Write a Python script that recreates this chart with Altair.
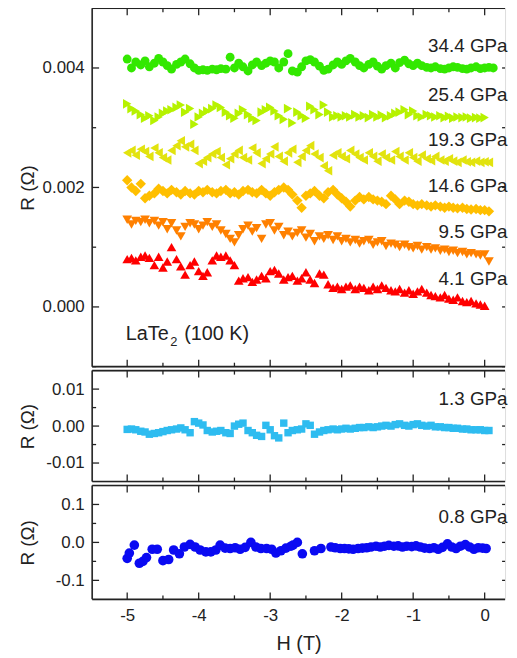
import altair as alt
import pandas as pd

FONT = "Liberation Sans"
INK = "#222222"

# ---- field grid (T) ----
H_GRID = [-5.00, -4.94, -4.88, -4.81, -4.75, -4.69, -4.62, -4.56, -4.50, -4.44,
          -4.38, -4.31, -4.25, -4.19, -4.12, -4.06, -4.00, -3.94, -3.88, -3.81,
          -3.75, -3.69, -3.62, -3.56, -3.50, -3.44, -3.38, -3.31, -3.25, -3.19,
          -3.12, -3.06, -3.00, -2.94, -2.88, -2.81, -2.75, -2.69, -2.62, -2.56,
          -2.50, -2.44, -2.38, -2.31, -2.25, -2.19, -2.12, -2.06, -2.00, -1.94,
          -1.88, -1.81, -1.75, -1.69, -1.62, -1.56, -1.50, -1.44, -1.38, -1.31,
          -1.25, -1.19, -1.12, -1.06, -1.00, -0.94, -0.88, -0.81, -0.75, -0.69,
          -0.62, -0.56, -0.50, -0.44, -0.38, -0.31, -0.25, -0.19, -0.12, -0.06,
          0.00, 0.06, 0.12]

# ---- top panel series (Ohm) ----
R_344 = [0.00415, 0.00400, 0.00410, 0.00405, 0.00412, 0.00402, 0.00408, 0.00416, 0.00410, 0.00404,
         0.00398, 0.00406, 0.00410, 0.00415, 0.00407, 0.00400, 0.00396, 0.00397, 0.00396, 0.00398,
         0.00397, 0.00399, 0.00398, 0.00418, 0.00400, 0.00408, 0.00402, 0.00395, 0.00405, 0.00410,
         0.00404, 0.00408, 0.00412, 0.00410, 0.00400, 0.00410, 0.00424, 0.00395, 0.00393, 0.00402,
         0.00412, 0.00414, 0.00410, 0.00403, 0.00396, 0.00398, 0.00405, 0.00410, 0.00406, 0.00412,
         0.00416, 0.00410, 0.00404, 0.00400, 0.00406, 0.00410, 0.00403, 0.00398, 0.00404, 0.00408,
         0.00400, 0.00409, 0.00413, 0.00407, 0.00404, 0.00408, 0.00404, 0.00401, 0.00400, 0.00402,
         0.00399, 0.00398, 0.00400, 0.00402, 0.00401, 0.00399, 0.00398, 0.00400, 0.00402, 0.00399,
         0.00400, 0.00401, 0.00400]
R_254 = [0.00340, 0.00332, 0.00328, 0.00322, 0.00316, 0.00320, 0.00312, 0.00318, 0.00324, 0.00328,
         0.00330, 0.00334, 0.00338, 0.00326, 0.00332, 0.00306, 0.00318, 0.00324, 0.00328, 0.00332,
         0.00338, 0.00334, 0.00326, 0.00320, 0.00316, 0.00324, 0.00330, 0.00322, 0.00316, 0.00312,
         0.00326, 0.00330, 0.00334, 0.00328, 0.00320, 0.00314, 0.00332, 0.00308, 0.00326, 0.00320,
         0.00316, 0.00336, 0.00330, 0.00322, 0.00338, 0.00326, 0.00318, 0.00320, 0.00318, 0.00320,
         0.00318, 0.00322, 0.00318, 0.00320, 0.00317, 0.00322, 0.00318, 0.00321, 0.00317, 0.00320,
         0.00324, 0.00326, 0.00330, 0.00322, 0.00328, 0.00320, 0.00318, 0.00322, 0.00320, 0.00318,
         0.00320, 0.00317, 0.00319, 0.00316, 0.00318, 0.00317, 0.00318, 0.00316, 0.00317, 0.00316,
         0.00317]
R_193 = [0.00258, 0.00262, 0.00254, 0.00264, 0.00260, 0.00252, 0.00266, 0.00258, 0.00250, 0.00246,
         0.00262, 0.00270, 0.00278, 0.00268, 0.00272, 0.00262, 0.00240, 0.00244, 0.00250, 0.00256,
         0.00260, 0.00250, 0.00238, 0.00248, 0.00256, 0.00262, 0.00250, 0.00246, 0.00266, 0.00258,
         0.00240, 0.00248, 0.00256, 0.00268, 0.00252, 0.00244, 0.00258, 0.00264, 0.00242, 0.00252,
         0.00262, 0.00270, 0.00256, 0.00250, 0.00236, 0.00228, 0.00254, 0.00258, 0.00252, 0.00248,
         0.00262, 0.00256, 0.00250, 0.00246, 0.00258, 0.00252, 0.00244, 0.00256, 0.00250, 0.00246,
         0.00260, 0.00252, 0.00246, 0.00258, 0.00250, 0.00244, 0.00254, 0.00248, 0.00245, 0.00252,
         0.00246, 0.00244, 0.00248, 0.00244, 0.00242, 0.00246, 0.00243, 0.00242, 0.00244, 0.00242,
         0.00243, 0.00242]
R_146 = [0.00212, 0.00200, 0.00194, 0.00206, 0.00182, 0.00186, 0.00190, 0.00198, 0.00194, 0.00190,
         0.00196, 0.00192, 0.00188, 0.00194, 0.00190, 0.00188, 0.00194, 0.00192, 0.00196, 0.00192,
         0.00190, 0.00194, 0.00196, 0.00190, 0.00192, 0.00188, 0.00194, 0.00196, 0.00192, 0.00190,
         0.00196, 0.00190, 0.00186, 0.00192, 0.00196, 0.00200, 0.00196, 0.00188, 0.00178, 0.00166,
         0.00186, 0.00190, 0.00194, 0.00186, 0.00182, 0.00192, 0.00196, 0.00188, 0.00182, 0.00176,
         0.00168, 0.00178, 0.00184, 0.00180, 0.00184, 0.00180, 0.00178, 0.00176, 0.00172, 0.00186,
         0.00180, 0.00172, 0.00178, 0.00176, 0.00172, 0.00170, 0.00172, 0.00170, 0.00168, 0.00170,
         0.00168, 0.00166, 0.00168, 0.00166, 0.00165, 0.00166, 0.00164, 0.00163, 0.00164, 0.00162,
         0.00162, 0.00160]
R_95 = [0.00146, 0.00138, 0.00144, 0.00142, 0.00146, 0.00140, 0.00144, 0.00136, 0.00142, 0.00130,
        0.00140, 0.00128, 0.00118, 0.00134, 0.00140, 0.00138, 0.00130, 0.00136, 0.00142, 0.00134,
        0.00138, 0.00128, 0.00122, 0.00114, 0.00108, 0.00120, 0.00130, 0.00136, 0.00126, 0.00132,
        0.00114, 0.00138, 0.00140, 0.00128, 0.00134, 0.00120, 0.00126, 0.00118, 0.00124, 0.00128,
        0.00116, 0.00122, 0.00110, 0.00118, 0.00114, 0.00120, 0.00112, 0.00118, 0.00110, 0.00114,
        0.00108, 0.00112, 0.00106, 0.00110, 0.00112, 0.00104, 0.00108, 0.00110, 0.00102, 0.00106,
        0.00104, 0.00100, 0.00104, 0.00100, 0.00098, 0.00102, 0.00096, 0.00100, 0.00096, 0.00098,
        0.00094, 0.00096, 0.00092, 0.00094, 0.00090, 0.00092, 0.00088, 0.00090, 0.00088, 0.00086,
        0.00088, 0.00076]
R_41 = [0.00080, 0.00082, 0.00078, 0.00084, 0.00086, 0.00082, 0.00070, 0.00084, 0.00066, 0.00076,
        0.00100, 0.00080, 0.00068, 0.00054, 0.00070, 0.00076, 0.00060, 0.00052, 0.00058, 0.00078,
        0.00086, 0.00084, 0.00086, 0.00078, 0.00070, 0.00044, 0.00048, 0.00050, 0.00042, 0.00046,
        0.00052, 0.00048, 0.00060, 0.00062, 0.00056, 0.00046, 0.00050, 0.00052, 0.00044, 0.00048,
        0.00058, 0.00046, 0.00040, 0.00056, 0.00054, 0.00038, 0.00032, 0.00034, 0.00030, 0.00034,
        0.00036, 0.00030, 0.00034, 0.00032, 0.00028, 0.00034, 0.00030, 0.00036, 0.00032, 0.00028,
        0.00026, 0.00030, 0.00024, 0.00028, 0.00022, 0.00026, 0.00030, 0.00024, 0.00020, 0.00018,
        0.00016, 0.00020, 0.00014, 0.00012, 0.00016, 0.00010, 0.00008, 0.00010, 0.00006, 0.00004,
        0.00002]

# ---- middle panel: 1.3 GPa ----
R_13 = [-0.0009, -0.0008, -0.0010, -0.0014, -0.0016, -0.0022, -0.0020, -0.0018, -0.0015, -0.0012,
        -0.0010, -0.0008, -0.0005, -0.0010, -0.0018, 0.0012, 0.0008, 0.0003, -0.0012, -0.0016,
        -0.0014, -0.0012, -0.0018, -0.0020, 0.0000, 0.0005, 0.0008, -0.0012, -0.0018, -0.0025,
        -0.0028, 0.0002, -0.0010, -0.0026, -0.0032, 0.0008, -0.0018, -0.0012, -0.0010, -0.0008,
        0.0006, 0.0002, -0.0022, -0.0016, -0.0012, -0.0010, -0.0008, -0.0010, -0.0008, -0.0006,
        -0.0008, -0.0006, -0.0004, -0.0004, -0.0002, -0.0004, -0.0002, 0.0000, 0.0002, 0.0000,
        0.0004, 0.0006, 0.0002, 0.0000, 0.0004, 0.0006, 0.0002, 0.0000, 0.0002, -0.0002,
        -0.0002, -0.0004, -0.0004, -0.0006, -0.0006, -0.0008, -0.0008, -0.0010, -0.0010, -0.0010,
        -0.0012, -0.0012]

# ---- bottom panel: 0.8 GPa ----
H_08 = [-5.00, -4.97, -4.90, -4.83, -4.78, -4.73, -4.65, -4.58, -4.50, -4.42,
        -4.35, -4.27, -4.20, -4.12, -4.05, -3.98, -3.90, -3.83, -3.76, -3.70,
        -3.63, -3.56, -3.49, -3.42, -3.35, -3.27, -3.20, -3.13, -3.05, -2.98,
        -2.92, -2.85, -2.78, -2.71, -2.68, -2.62, -2.55, -2.38, -2.29, -2.15,
        -2.09, -2.02, -1.96, -1.90, -1.84, -1.77, -1.71, -1.65, -1.59, -1.52,
        -1.46, -1.40, -1.34, -1.27, -1.21, -1.15, -1.09, -1.02, -0.96, -0.90,
        -0.84, -0.77, -0.71, -0.65, -0.59, -0.52, -0.46, -0.40, -0.34, -0.27,
        -0.21, -0.15, -0.09, -0.03, 0.02]
R_08 = [-0.042, -0.028, -0.007, -0.055, -0.050, -0.040, -0.018, -0.018, -0.048, -0.045,
        -0.020, -0.030, -0.012, -0.005, -0.012, -0.020, -0.025, -0.025, -0.020, -0.007,
        -0.015, -0.016, -0.014, -0.018, -0.013, 0.000, -0.012, -0.016, -0.016, -0.018,
        -0.028, -0.022, -0.015, -0.010, -0.007, 0.000, -0.030, -0.022, -0.016, -0.012,
        -0.014, -0.016, -0.016, -0.017, -0.018, -0.016, -0.015, -0.014, -0.012, -0.010,
        -0.012, -0.010, -0.008, -0.010, -0.009, -0.012, -0.010, -0.011, -0.009, -0.012,
        -0.015, -0.016, -0.014, -0.018, -0.013, -0.004, -0.012, -0.016, -0.010, -0.006,
        -0.012, -0.018, -0.014, -0.015, -0.016]

# ---- series styling ----
TOP_SERIES = [
    ("34.4 GPa", R_344, "#33e800", "circle", 80),
    ("25.4 GPa", R_254, "#b6f200", "triangle-right", 95),
    ("19.3 GPa", R_193, "#e2e30e", "triangle-left", 95),
    ("14.6 GPa", R_146, "#ffbf00", "diamond", 110),
    ("9.5 GPa", R_95, "#ff8000", "triangle-down", 95),
    ("4.1 GPa", R_41, "#ff0000", "triangle-up", 95),
]

# label anchors (H, R) for the pressure labels
TOP_LABEL_H = [0.32] * 6
TOP_LABEL_R = [0.00426, 0.003455, 0.002688, 0.001922, 0.001155, 0.000372]
MID_LABEL = ("1.3 GPa", 0.32, 0.0058)
BOT_LABEL = ("0.8 GPa", 0.32, 0.052)
SAMPLE_LABEL = (-5.02, -0.00055)

# ---- axes ----
XDOM = [-5.49, 0.285]
X_MAJOR = [-5, -4, -3, -2, -1, 0]
X_MINOR = [-4.5, -3.5, -2.5, -1.5, -0.5]
W = 417
H_TOP, H_MID, H_BOT = 362, 112, 115


def signed(fmt):
    return ("datum.value < 0 ? '-' + format(abs(datum.value), '%s') : format(datum.value, '%s')"
            % (fmt, fmt))


def panel(points, ydom, height, ymaj, ymin, yfmt, texts, show_x):
    xscale = alt.Scale(domain=XDOM, nice=False, zero=False)
    yscale = alt.Scale(domain=ydom, nice=False, zero=False)
    if show_x:
        xaxis = alt.Axis(values=X_MAJOR, title="H (T)", labelExpr=signed("d"), ticks=False,
                         domain=False, grid=False, labelPadding=8, titlePadding=11,
                         labelFontSize=17, titleFontSize=20, labelFont=FONT, titleFont=FONT,
                         labelColor=INK, titleColor=INK, titleFontWeight="normal")
    else:
        xaxis = None
    yaxis = alt.Axis(values=ymaj, title="R (\u03a9)", labelExpr=signed(yfmt), ticks=False,
                     domain=False, grid=False, labelPadding=8, minExtent=52, maxExtent=52,
                     titlePadding=3, labelFontSize=17, titleFontSize=19, labelFont=FONT,
                     titleFont=FONT, labelColor=INK, titleColor=INK, titleFontWeight="normal")
    xenc = alt.X("H:Q", scale=xscale, axis=xaxis)
    yenc = alt.Y("R:Q", scale=yscale, axis=yaxis)

    layers = []
    for name, df, color, shape, size in points:
        layers.append(alt.Chart(df).mark_point(filled=True, opacity=1, color=color,
                                               shape=shape, size=size, strokeWidth=0)
                      .encode(x=xenc, y=yenc))

    # frame: left, top, bottom (right edge lies beyond the cropped figure)
    frame = dict(color=INK, strokeWidth=1.6)
    layers.append(alt.Chart(pd.DataFrame({"k": [0]})).mark_rule(**frame).encode(
        x=alt.value(0), y=alt.value(0), y2=alt.value(height)))
    layers.append(alt.Chart(pd.DataFrame({"k": [0]})).mark_rule(**frame).encode(
        y=alt.value(0), x=alt.value(0), x2=alt.value(W)))
    layers.append(alt.Chart(pd.DataFrame({"k": [0]})).mark_rule(**frame).encode(
        y=alt.value(height), x=alt.value(0), x2=alt.value(W)))

    rule = dict(color=INK, strokeWidth=1.3)
    for vals, ln in ((X_MAJOR, 7), (X_MINOR, 4)):
        d = pd.DataFrame({"H": vals})
        layers.append(alt.Chart(d).mark_rule(**rule).encode(
            x=xenc, y=alt.value(height), y2=alt.value(height - ln)))
        layers.append(alt.Chart(d).mark_rule(**rule).encode(
            x=xenc, y=alt.value(0), y2=alt.value(ln)))
    for vals, ln in ((ymaj, 7), (ymin, 4)):
        d = pd.DataFrame({"R": vals})
        layers.append(alt.Chart(d).mark_rule(**rule).encode(
            y=yenc, x=alt.value(0), x2=alt.value(ln)))
        layers.append(alt.Chart(d).mark_rule(**rule).encode(
            y=yenc, x=alt.value(W), x2=alt.value(W - 3)))

    for df, props in texts:
        layers.append(alt.Chart(df).mark_text(font=FONT, color=INK, **props)
                      .encode(x=xenc, y=yenc, text="label:N"))

    return alt.layer(*layers).properties(width=W, height=height)


# top panel
top_points = []
for name, vals, color, shape, size in TOP_SERIES:
    df = pd.DataFrame({"H": H_GRID[:len(vals)], "R": vals})
    top_points.append((name, df, color, shape, size))
top_labels = pd.DataFrame({"H": TOP_LABEL_H, "R": TOP_LABEL_R,
                           "label": [s[0] for s in TOP_SERIES]})
sample_a = pd.DataFrame({"H": [SAMPLE_LABEL[0]], "R": [SAMPLE_LABEL[1]], "label": ["LaTe"]})
sample_b = pd.DataFrame({"H": [SAMPLE_LABEL[0]], "R": [SAMPLE_LABEL[1]], "label": ["2"]})
sample_c = pd.DataFrame({"H": [SAMPLE_LABEL[0]], "R": [SAMPLE_LABEL[1]], "label": ["(100 K)"]})
top = panel(
    top_points, [-0.001, 0.005], H_TOP, [0.0, 0.002, 0.004], [-0.001, 0.001, 0.003, 0.005],
    ".3f",
    [(top_labels, dict(align="right", baseline="alphabetic", fontSize=19)),
     (sample_a, dict(align="left", baseline="alphabetic", fontSize=20)),
     (sample_b, dict(align="left", baseline="alphabetic", fontSize=13, dx=45, dy=6)),
     (sample_c, dict(align="left", baseline="alphabetic", fontSize=20, dx=59))],
    False)

mid_df = pd.DataFrame({"H": H_GRID[:len(R_13)], "R": R_13})
mid_lab = pd.DataFrame({"H": [MID_LABEL[1]], "R": [MID_LABEL[2]], "label": [MID_LABEL[0]]})
mid = panel(
    [("1.3 GPa", mid_df, "#2ebcf0", "square", 56)], [-0.015, 0.015], H_MID,
    [-0.01, 0.0, 0.01], [-0.005, 0.005], ".2f",
    [(mid_lab, dict(align="right", baseline="alphabetic", fontSize=19))],
    False)

bot_df = pd.DataFrame({"H": H_08, "R": R_08})
bot_lab = pd.DataFrame({"H": [BOT_LABEL[1]], "R": [BOT_LABEL[2]], "label": [BOT_LABEL[0]]})
bot = panel(
    [("0.8 GPa", bot_df, "#0a0af2", "circle", 95)], [-0.15, 0.15], H_BOT,
    [-0.1, 0.0, 0.1], [-0.05, 0.05], ".1f",
    [(bot_lab, dict(align="right", baseline="alphabetic", fontSize=19))],
    True)

chart = alt.vconcat(top, mid, bot, spacing=0).properties(
    padding={"left": 10, "top": -5, "right": 0, "bottom": 0}
).configure_view(stroke=None).configure(background="white")

chart.save("out.html", embed_options={"renderer": "svg", "actions": False})
